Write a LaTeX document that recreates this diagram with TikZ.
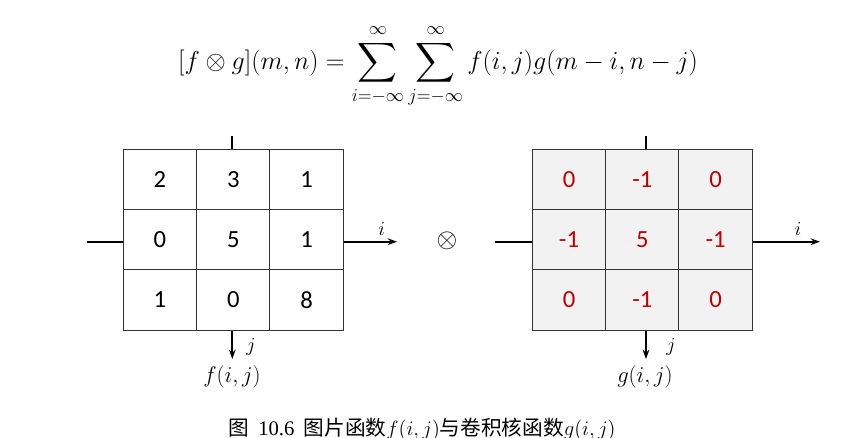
\documentclass[tikz,border=0pt]{standalone}
\usepackage{fix-cm}
\usepackage{amsmath}
\usepackage{fontspec}
\setmainfont{Carlito}
\newfontfamily\cjk{Noto Sans CJK SC}
\newfontfamily\tnr{Liberation Serif}
\usetikzlibrary{arrows.meta,positioning}
\definecolor{kernred}{HTML}{C00000}
\definecolor{kernfill}{HTML}{F2F2F2}
\tikzset{
  cell/.style={draw=black!80, line width=0.75pt, minimum width=55pt, minimum height=45.3pt, inner sep=0pt, font=\fontsize{18.5}{20}\selectfont},
  kcell/.style={cell, fill=kernfill, text=kernred},
  axis/.style={line width=1.5pt},
  axlabel/.style={font=\fontsize{15}{17}\selectfont},
  fname/.style={font=\fontsize{17}{19}\selectfont},
}

\begin{document}
\begin{tikzpicture}[x=0.75pt,y=-0.75pt]
\useasboundingbox (0,0) rectangle (854,438);

%Convolution formula
\node (formula) at (438,66) {\fontsize{19.5}{22}\selectfont $\displaystyle [f\otimes g](m,n)=\sum_{i=-\infty}^{\infty}\sum_{j=-\infty}^{\infty}f(i,j)g(m-i,n-j)$};

%Image grid f
\foreach \row [count=\r] in {{2,3,1},{0,5,1},{1,0,8}}
  \foreach \v [count=\c] in \row
    \node[cell] (f-\r-\c) at ({86.7+73.3*\c},{119+60.3*\r}) {\v};

%Kernel grid g
\foreach \row [count=\r] in {{0,-1,0},{-1,5,-1},{0,-1,0}}
  \foreach \v [count=\c] in \row
    \node[kcell] (g-\r-\c) at ({495.7+73.3*\c},{119+60.3*\r}) {\v};

%Axes of f
\coordinate (f-left) at (86.7,241.7);
\coordinate (f-right) at (397,241.7);
\coordinate (f-top) at (232.3,136);
\coordinate (f-down) at (232.3,359);
\draw[axis] (f-left) -- (f-left -| f-2-1.west);
\draw[axis,-{Stealth[length=7pt,width=5pt]}] (f-right -| f-2-3.east) -- (f-right);
\draw[axis] (f-top |- f-1-2.north) -- (f-top);
\draw[axis,-{Stealth[length=7pt,width=5pt]}] (f-top |- f-3-2.south) -- (f-down);
\node[axlabel] (f-i) at (381.7,229) {$i$};
\node[axlabel] (f-j) at (251,347) {$j$};
\node[fname] (f-name) at (232,377) {$f(i,j)$};

%Operator
\node[font=\fontsize{20}{22}\selectfont] (op) at (447,241) {$\otimes$};

%Axes of g
\coordinate (g-left) at (495,241.7);
\coordinate (g-right) at (820,241.7);
\coordinate (g-top) at (646,136);
\coordinate (g-down) at (646,359);
\draw[axis] (g-left) -- (g-left -| g-2-1.west);
\draw[axis,-{Stealth[length=7pt,width=5pt]}] (g-right -| g-2-3.east) -- (g-right);
\draw[axis] (g-top |- g-1-2.north) -- (g-top);
\draw[axis,-{Stealth[length=7pt,width=5pt]}] (g-top |- g-3-2.south) -- (g-down);
\node[axlabel] (g-i) at (798,229) {$i$};
\node[axlabel] (g-j) at (671,347) {$j$};
\node[fname] (g-name) at (645,377) {$g(i,j)$};

%Caption
\node[anchor=west, inner sep=0pt, font=\fontsize{15.5}{18}\selectfont] (caption) at (228,429)
  {{\cjk 图}\ \ {\tnr 10.6}\ \ {\cjk 图片函数}$f(i,j)${\cjk 与卷积核函数}$g(i,j)$};
\end{tikzpicture}
\end{document}
